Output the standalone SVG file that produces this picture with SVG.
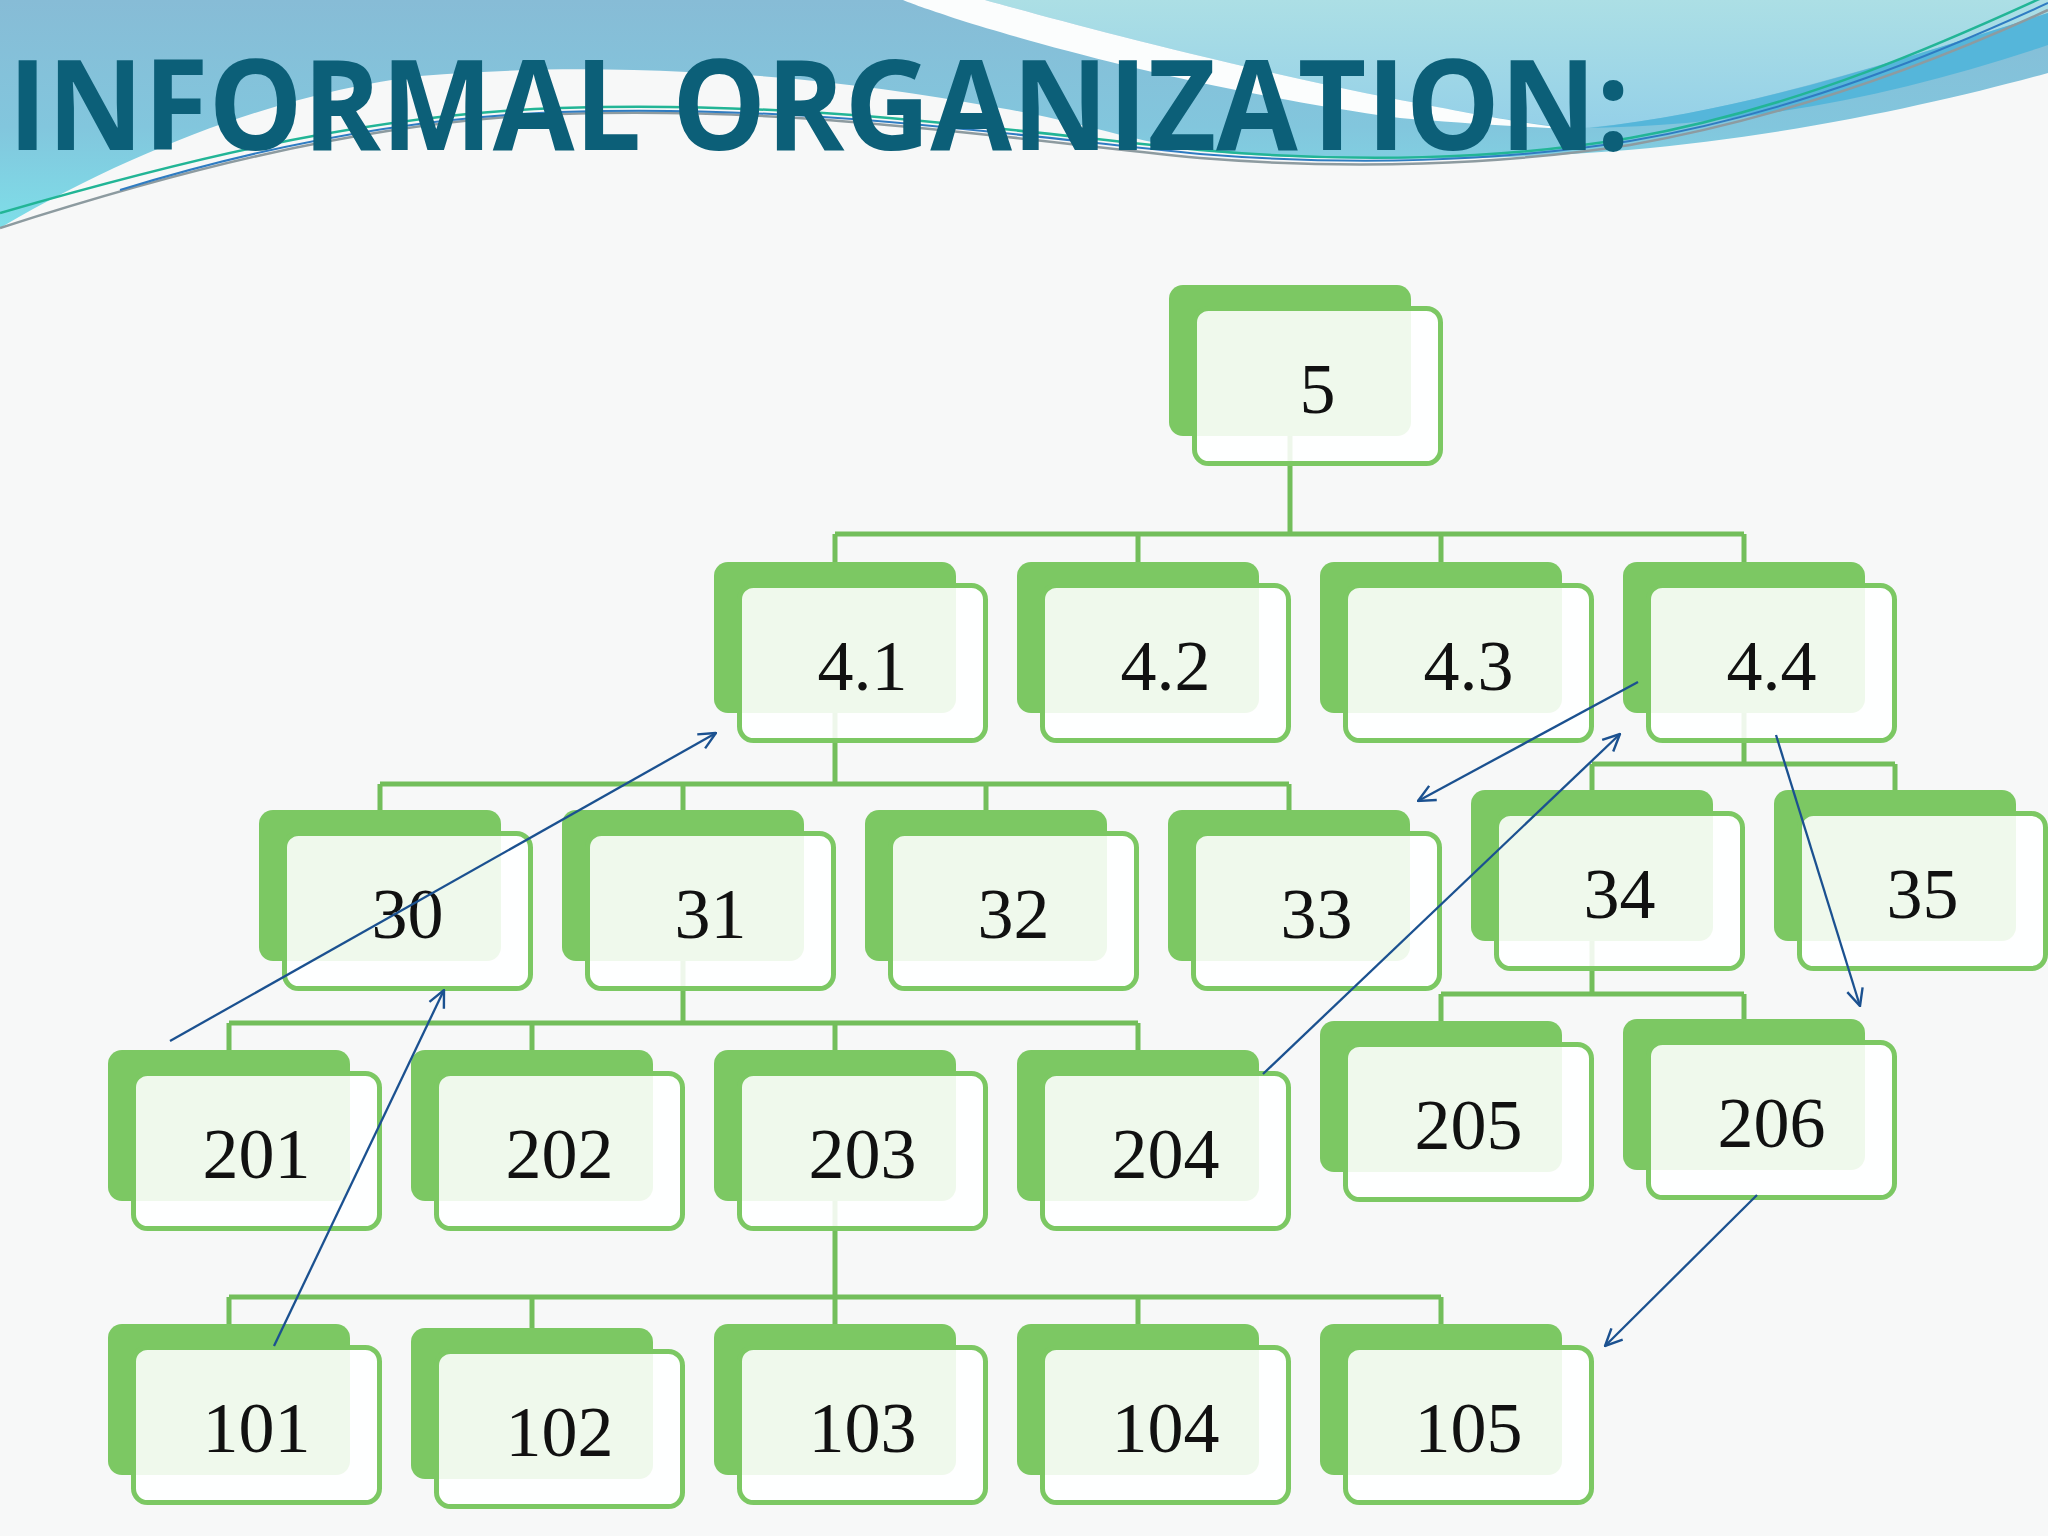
<svg xmlns="http://www.w3.org/2000/svg" width="2048" height="1536" viewBox="0 0 2048 1536">
<defs>
<linearGradient id="gA" x1="0" y1="0" x2="0" y2="230" gradientUnits="userSpaceOnUse">
<stop offset="0" stop-color="#87bcd6"/>
<stop offset="0.55" stop-color="#82c6dd"/>
<stop offset="1" stop-color="#7edfe9"/>
</linearGradient>
<linearGradient id="gB" x1="0" y1="0" x2="0" y2="130" gradientUnits="userSpaceOnUse">
<stop offset="0" stop-color="#acdfe5"/>
<stop offset="1" stop-color="#94d0e8"/>
</linearGradient>
<marker id="ah" viewBox="0 0 20 20" refX="19" refY="10" markerWidth="20" markerHeight="20" markerUnits="userSpaceOnUse" orient="auto">
<path d="M2,2 L19,10 L2,18" fill="none" stroke="#1b5190" stroke-width="2.4"/>
</marker>
<style>
.back{fill:#7cc863;}
.front{fill:#ffffff;fill-opacity:0.88;stroke:#7cc863;stroke-width:5;}
.lbl{font-family:"Liberation Serif","DejaVu Serif",serif;font-size:72px;fill:#111111;text-anchor:middle;}
.conn{stroke:#73be5b;stroke-width:5;fill:none;}
.arrow{stroke:#1b5190;stroke-width:2.3;fill:none;marker-end:url(#ah);}
.title{font-family:"Open Sans","Liberation Sans",sans-serif;font-weight:bold;font-size:126px;fill:#0c5f78;}
</style>
</defs>
<rect width="2048" height="1536" fill="#f7f8f8"/>
<g id="background">
<path d="M0,0 H2048 V73 C1950,100 1800,135 1628,150 C1480,162 1350,160 1250,155 C1150,150 1100,125 1000,108 C900,90 800,76 687,72 C600,68 520,68 420,76 C300,90 150,140 0,228 Z" fill="url(#gA)"/>
<path d="M985,0 C1040,15 1200,60 1400,100 C1480,115 1530,125 1580,128 C1720,118 1900,60 2048,13 V0 Z" fill="url(#gB)"/>
<path d="M903,0 L985,0 C1040,15 1200,60 1400,100 C1480,115 1530,125 1575,129 C1500,126 1450,122 1400,118 C1200,90 1040,45 960,20 C930,10 915,5 903,0 Z" fill="#fbfdfd"/>
<path d="M1590,128 C1750,110 1900,60 2048,13 L2048,45 C1900,95 1750,125 1590,128 Z" fill="#55b6da"/>
<path d="M0,213 C150,170 350,115 560,108 C800,100 1000,130 1200,150 C1350,163 1500,160 1630,138 C1800,108 1950,40 2048,-5" fill="none" stroke="#22b596" stroke-width="2.5"/>
<path d="M0,228 C150,180 350,122 560,114 C800,106 1000,138 1200,158 C1350,170 1500,165 1630,145 C1800,115 1950,55 2048,10" fill="none" stroke="#8d9ba0" stroke-width="2.5"/>
<path d="M120,190 C250,150 400,118 560,112 C800,104 1000,134 1200,154 C1350,166 1500,162 1630,141 C1800,112 1950,48 2048,3" fill="none" stroke="#2f7cc2" stroke-width="2"/>
</g>
<text class="title" x="8" y="150" textLength="1622" lengthAdjust="spacingAndGlyphs">INFORMAL ORGANIZATION:</text>
<g id="connectors">
<path class="conn" d="M1290,436 V534 M835,534 H1744 M835,534 V562 M1138,534 V562 M1441,534 V562 M1744,534 V562"/>
<path class="conn" d="M835,713 V784 M380,784 H1289 M380,784 V810 M683,784 V810 M986,784 V810 M1289,784 V810"/>
<path class="conn" d="M1744,713 V764 M1592,764 H1895 M1592,764 V790 M1895,764 V790"/>
<path class="conn" d="M683,961 V1023 M229,1023 H1138 M229,1023 V1050 M532,1023 V1050 M835,1023 V1050 M1138,1023 V1050"/>
<path class="conn" d="M1592,941 V994 M1441,994 H1744 M1441,994 V1021 M1744,994 V1019"/>
<path class="conn" d="M835,1201 V1297 M229,1297 H1441 M229,1297 V1324 M532,1297 V1328 M835,1297 V1324 M1138,1297 V1324 M1441,1297 V1324"/>
</g>
<g id="node-5" transform="translate(1169,285)"><rect class="back" width="242" height="151" rx="14"/><rect class="front" x="25.5" y="23.5" width="246" height="155" rx="14"/><text class="lbl" x="148.5" y="128">5</text></g>
<g id="node-4.1" transform="translate(714,562)"><rect class="back" width="242" height="151" rx="14"/><rect class="front" x="25.5" y="23.5" width="246" height="155" rx="14"/><text class="lbl" x="148.5" y="128">4.1</text></g>
<g id="node-4.2" transform="translate(1017,562)"><rect class="back" width="242" height="151" rx="14"/><rect class="front" x="25.5" y="23.5" width="246" height="155" rx="14"/><text class="lbl" x="148.5" y="128">4.2</text></g>
<g id="node-4.3" transform="translate(1320,562)"><rect class="back" width="242" height="151" rx="14"/><rect class="front" x="25.5" y="23.5" width="246" height="155" rx="14"/><text class="lbl" x="148.5" y="128">4.3</text></g>
<g id="node-4.4" transform="translate(1623,562)"><rect class="back" width="242" height="151" rx="14"/><rect class="front" x="25.5" y="23.5" width="246" height="155" rx="14"/><text class="lbl" x="148.5" y="128">4.4</text></g>
<g id="node-30" transform="translate(259,810)"><rect class="back" width="242" height="151" rx="14"/><rect class="front" x="25.5" y="23.5" width="246" height="155" rx="14"/><text class="lbl" x="148.5" y="128">30</text></g>
<g id="node-31" transform="translate(562,810)"><rect class="back" width="242" height="151" rx="14"/><rect class="front" x="25.5" y="23.5" width="246" height="155" rx="14"/><text class="lbl" x="148.5" y="128">31</text></g>
<g id="node-32" transform="translate(865,810)"><rect class="back" width="242" height="151" rx="14"/><rect class="front" x="25.5" y="23.5" width="246" height="155" rx="14"/><text class="lbl" x="148.5" y="128">32</text></g>
<g id="node-33" transform="translate(1168,810)"><rect class="back" width="242" height="151" rx="14"/><rect class="front" x="25.5" y="23.5" width="246" height="155" rx="14"/><text class="lbl" x="148.5" y="128">33</text></g>
<g id="node-34" transform="translate(1471,790)"><rect class="back" width="242" height="151" rx="14"/><rect class="front" x="25.5" y="23.5" width="246" height="155" rx="14"/><text class="lbl" x="148.5" y="128">34</text></g>
<g id="node-35" transform="translate(1774,790)"><rect class="back" width="242" height="151" rx="14"/><rect class="front" x="25.5" y="23.5" width="246" height="155" rx="14"/><text class="lbl" x="148.5" y="128">35</text></g>
<g id="node-201" transform="translate(108,1050)"><rect class="back" width="242" height="151" rx="14"/><rect class="front" x="25.5" y="23.5" width="246" height="155" rx="14"/><text class="lbl" x="148.5" y="128">201</text></g>
<g id="node-202" transform="translate(411,1050)"><rect class="back" width="242" height="151" rx="14"/><rect class="front" x="25.5" y="23.5" width="246" height="155" rx="14"/><text class="lbl" x="148.5" y="128">202</text></g>
<g id="node-203" transform="translate(714,1050)"><rect class="back" width="242" height="151" rx="14"/><rect class="front" x="25.5" y="23.5" width="246" height="155" rx="14"/><text class="lbl" x="148.5" y="128">203</text></g>
<g id="node-204" transform="translate(1017,1050)"><rect class="back" width="242" height="151" rx="14"/><rect class="front" x="25.5" y="23.5" width="246" height="155" rx="14"/><text class="lbl" x="148.5" y="128">204</text></g>
<g id="node-205" transform="translate(1320,1021)"><rect class="back" width="242" height="151" rx="14"/><rect class="front" x="25.5" y="23.5" width="246" height="155" rx="14"/><text class="lbl" x="148.5" y="128">205</text></g>
<g id="node-206" transform="translate(1623,1019)"><rect class="back" width="242" height="151" rx="14"/><rect class="front" x="25.5" y="23.5" width="246" height="155" rx="14"/><text class="lbl" x="148.5" y="128">206</text></g>
<g id="node-101" transform="translate(108,1324)"><rect class="back" width="242" height="151" rx="14"/><rect class="front" x="25.5" y="23.5" width="246" height="155" rx="14"/><text class="lbl" x="148.5" y="128">101</text></g>
<g id="node-102" transform="translate(411,1328)"><rect class="back" width="242" height="151" rx="14"/><rect class="front" x="25.5" y="23.5" width="246" height="155" rx="14"/><text class="lbl" x="148.5" y="128">102</text></g>
<g id="node-103" transform="translate(714,1324)"><rect class="back" width="242" height="151" rx="14"/><rect class="front" x="25.5" y="23.5" width="246" height="155" rx="14"/><text class="lbl" x="148.5" y="128">103</text></g>
<g id="node-104" transform="translate(1017,1324)"><rect class="back" width="242" height="151" rx="14"/><rect class="front" x="25.5" y="23.5" width="246" height="155" rx="14"/><text class="lbl" x="148.5" y="128">104</text></g>
<g id="node-105" transform="translate(1320,1324)"><rect class="back" width="242" height="151" rx="14"/><rect class="front" x="25.5" y="23.5" width="246" height="155" rx="14"/><text class="lbl" x="148.5" y="128">105</text></g>
<g id="informal-links">
<line class="arrow" x1="170" y1="1041" x2="716" y2="733"/>
<line class="arrow" x1="274" y1="1346" x2="444" y2="990"/>
<line class="arrow" x1="1638" y1="682" x2="1418" y2="801"/>
<line class="arrow" x1="1263" y1="1074" x2="1620" y2="734"/>
<line class="arrow" x1="1776" y1="735" x2="1860" y2="1006"/>
<line class="arrow" x1="1757" y1="1195" x2="1605" y2="1346"/>
</g>
</svg>
